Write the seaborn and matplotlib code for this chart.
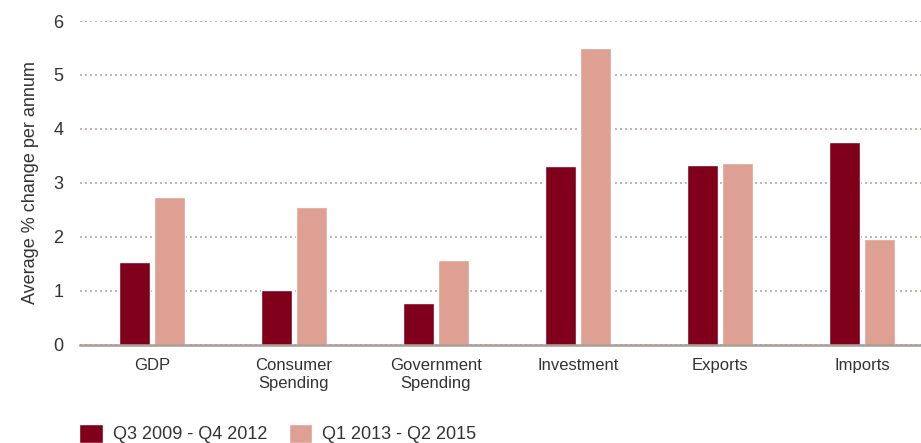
import matplotlib
matplotlib.use("Agg")
import matplotlib.pyplot as plt
import seaborn as sns
import pandas as pd
from matplotlib.font_manager import fontManager

categories = ["GDP", "Consumer\nSpending", "Government\nSpending", "Investment", "Exports", "Imports"]
series_names = ["Q3 2009 - Q4 2012", "Q1 2013 - Q2 2015"]
period1 = [1.53, 1.01, 0.77, 3.31, 3.33, 3.75]
period2 = [2.74, 2.55, 1.57, 5.50, 3.37, 1.96]
yticks = [0, 1, 2, 3, 4, 5, 6]

df = pd.DataFrame({
    "category": categories * 2,
    "period": [series_names[0]] * len(categories) + [series_names[1]] * len(categories),
    "value": period1 + period2,
})

sns.set_theme(style="white")
names = {f.name for f in fontManager.ttflist}
fam = "Liberation Sans Narrow" if "Liberation Sans Narrow" in names else "Liberation Sans"
plt.rcParams["font.family"] = [fam, "DejaVu Sans"]

fig = plt.figure(figsize=(9.21, 4.43), dpi=100)
ax = fig.add_axes([80 / 921, 1 - 344.5 / 443, 1 - 80 / 921, (344.5 - 21) / 443])

palette = {series_names[0]: "#80001C", series_names[1]: "#DFA094"}
sns.barplot(data=df, x="category", y="value", hue="period", palette=palette,
            width=0.493, gap=0.115, saturation=1, ax=ax, legend=True)

ax.set_xlim(-0.507, 5.415)
ax.set_ylim(0, 6)
ax.set_yticks(yticks)
ax.set_yticklabels([str(t) for t in yticks], fontsize=13, color="#333333")
ax.tick_params(axis="y", length=0, pad=12)
ax.tick_params(axis="x", length=0, pad=10, labelsize=12, labelcolor="#333333")
ax.set_xlabel("")
ax.set_ylabel("Average % change per annum", fontsize=13, color="#333333", labelpad=10)

ax.set_axisbelow(True)
ax.yaxis.grid(True, color="#b5aaa2", linewidth=1.2, linestyle=(0, (1.2, 1.8)))
ax.xaxis.grid(False)
for s in ["top", "right", "left"]:
    ax.spines[s].set_visible(False)
ax.spines["bottom"].set_color("#a89c94")
ax.spines["bottom"].set_linewidth(1.8)

handles, labels = ax.get_legend_handles_labels()
ax.get_legend().remove()
fig.legend(handles, labels, loc="lower left", bbox_to_anchor=(63 / 921, -0.037), ncol=2,
           frameon=False, fontsize=13, handlelength=1.3, handleheight=1.25,
           handletextpad=0.55, columnspacing=1.2, labelcolor="#333333")

fig.savefig("out.png", dpi=100)
